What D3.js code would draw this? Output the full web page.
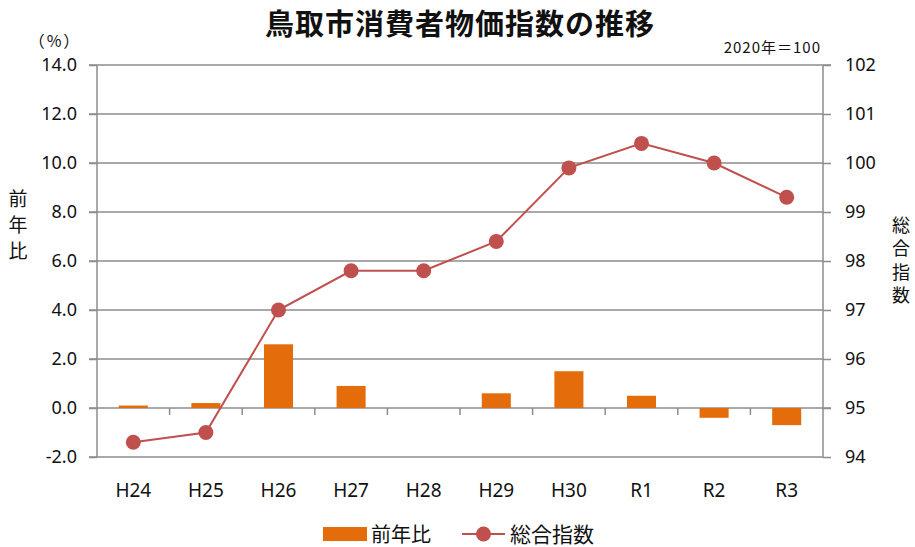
<html>
<head>
<meta charset="utf-8">
<script src="https://cdn.jsdelivr.net/npm/d3@7"></script>
<style>
body { margin: 0; background: #fff; }
text { font-family: "Noto Sans", "Noto Sans CJK JP", sans-serif; fill: #111; }
.jp { font-family: "Noto Sans CJK JP", sans-serif; }
</style>
</head>
<body>
<div id="chart"></div>
<script>

const orange = "#e46c0a";
const red = "#c0504d";
const gray = "#8c8c8c";

// data
var years = ["H24", "H25", "H26", "H27", "H28", "H29", "H30", "R1", "R2", "R3"];
var yoy = [0.1, 0.2, 2.6, 0.9, 0.0, 0.6, 1.5, 0.5, -0.4, -0.7];
var index = [94.3, 94.5, 97.0, 97.8, 97.8, 98.4, 99.9, 100.4, 100.0, 99.3];
var leftTicks = [-2, 0, 2, 4, 6, 8, 10, 12, 14];
var rightTicks = [94, 95, 96, 97, 98, 99, 100, 101, 102];

var width = 915, height = 547;
var plotL = 97, plotR = 823, plotT = 65, plotB = 457;

var svg = d3.select("#chart").append("svg")
            .attr("width", width)
            .attr("height", height);

var x = d3.scaleBand().domain(years).range([plotL, plotR]);
var yL = d3.scaleLinear().domain([-2, 14]).range([plotB, plotT]);
var yR = d3.scaleLinear().domain([94, 102]).range([plotB, plotT]);

// gridlines
svg.selectAll(".grid")
   .data(leftTicks.filter(function(d) { return d != 0; }))
   .enter().append("line")
   .attr("x1", plotL - 8)
   .attr("x2", function(d) { return d == 14 ? plotR + 8 : plotR; })
   .attr("y1", function(d) { return yL(d); })
   .attr("y2", function(d) { return yL(d); })
   .attr("stroke", gray)
   .attr("stroke-width", 1.5);

// left axis
var leftAxis = svg.append("g")
   .attr("transform", "translate(" + plotL + ",0)")
   .call(d3.axisLeft(yL).tickValues(leftTicks).tickSize(8).tickPadding(12)
           .tickFormat(function(d) { return d.toFixed(1); }));
leftAxis.selectAll("line, path").attr("stroke", gray).attr("stroke-width", 1.5);
leftAxis.select("path").attr("d", "M0," + plotT + "V" + plotB);
leftAxis.selectAll("text").attr("font-size", 18).attr("fill", "#111")
        .style("font-family", "'Noto Sans', sans-serif");

// right axis
var rightAxis = svg.append("g")
   .attr("transform", "translate(" + plotR + ",0)")
   .call(d3.axisRight(yR).tickValues(rightTicks).tickSize(8).tickPadding(14));
rightAxis.selectAll("line, path").attr("stroke", gray).attr("stroke-width", 1.5);
rightAxis.select("path").attr("d", "M0," + plotT + "V" + plotB);
rightAxis.selectAll("text").attr("font-size", 18).attr("fill", "#111")
         .style("font-family", "'Noto Sans', sans-serif");

// zero line with category ticks
svg.append("line")
   .attr("x1", plotL - 8).attr("x2", plotR + 8)
   .attr("y1", yL(0)).attr("y2", yL(0))
   .attr("stroke", gray).attr("stroke-width", 1.5);

svg.selectAll(".ctick")
   .data(years.slice(1))
   .enter().append("line")
   .attr("x1", function(d) { return x(d); })
   .attr("x2", function(d) { return x(d); })
   .attr("y1", yL(0))
   .attr("y2", yL(0) + 7)
   .attr("stroke", gray)
   .attr("stroke-width", 1.5);

// bars
var bw = x.bandwidth() * 0.4;
svg.selectAll(".bar")
   .data(yoy)
   .enter().append("rect")
   .attr("x", function(d, i) { return x(years[i]) + x.bandwidth() / 2 - bw / 2; })
   .attr("y", function(d) { return Math.min(yL(d), yL(0)); })
   .attr("width", bw)
   .attr("height", function(d) { return Math.abs(yL(d) - yL(0)); })
   .attr("fill", orange);

// category labels
svg.selectAll(".xlabel")
   .data(years)
   .enter().append("text")
   .attr("x", function(d) { return x(d) + x.bandwidth() / 2; })
   .attr("y", 497)
   .attr("text-anchor", "middle")
   .attr("font-size", 19)
   .text(function(d) { return d; });

// line
var line = d3.line()
   .x(function(d, i) { return x(years[i]) + x.bandwidth() / 2; })
   .y(function(d) { return yR(d); });

svg.append("path")
   .datum(index)
   .attr("d", line)
   .attr("fill", "none")
   .attr("stroke", red)
   .attr("stroke-width", 2);

svg.selectAll(".dot")
   .data(index)
   .enter().append("circle")
   .attr("cx", function(d, i) { return x(years[i]) + x.bandwidth() / 2; })
   .attr("cy", function(d) { return yR(d); })
   .attr("r", 7.5)
   .attr("fill", red);

// titles
svg.append("text")
   .attr("class", "jp")
   .attr("x", 460).attr("y", 35)
   .attr("text-anchor", "middle")
   .attr("font-size", 29)
   .attr("font-weight", "bold")
   .attr("letter-spacing", 1)
   .text("鳥取市消費者物価指数の推移");

svg.append("text")
   .attr("class", "jp")
   .attr("x", 821).attr("y", 53)
   .attr("text-anchor", "end")
   .attr("font-size", 15)
   .attr("letter-spacing", 1)
   .text("2020年＝100");

svg.append("text")
   .attr("class", "jp")
   .attr("x", 55).attr("y", 47)
   .attr("text-anchor", "middle")
   .attr("font-size", 16)
   .attr("letter-spacing", 2)
   .text("（%）");

// vertical axis titles
svg.append("text")
   .attr("class", "jp")
   .attr("x", 18).attr("y", 189)
   .attr("font-size", 19)
   .attr("letter-spacing", 7)
   .style("writing-mode", "vertical-rl")
   .text("前年比");

svg.append("text")
   .attr("class", "jp")
   .attr("x", 901).attr("y", 216)
   .attr("font-size", 18)
   .attr("letter-spacing", 5.5)
   .style("writing-mode", "vertical-rl")
   .text("総合指数");

// legend
svg.append("rect")
   .attr("x", 323).attr("y", 527)
   .attr("width", 44).attr("height", 14)
   .attr("fill", orange);
svg.append("text")
   .attr("class", "jp")
   .attr("x", 371).attr("y", 542)
   .attr("font-size", 20)
   .text("前年比");

svg.append("line")
   .attr("x1", 462).attr("x2", 505)
   .attr("y1", 534).attr("y2", 534)
   .attr("stroke", red).attr("stroke-width", 2);
svg.append("circle")
   .attr("cx", 483.5).attr("cy", 534).attr("r", 7.5)
   .attr("fill", red);
svg.append("text")
   .attr("class", "jp")
   .attr("x", 510).attr("y", 542)
   .attr("font-size", 21)
   .text("総合指数");

</script>
</body>
</html>
